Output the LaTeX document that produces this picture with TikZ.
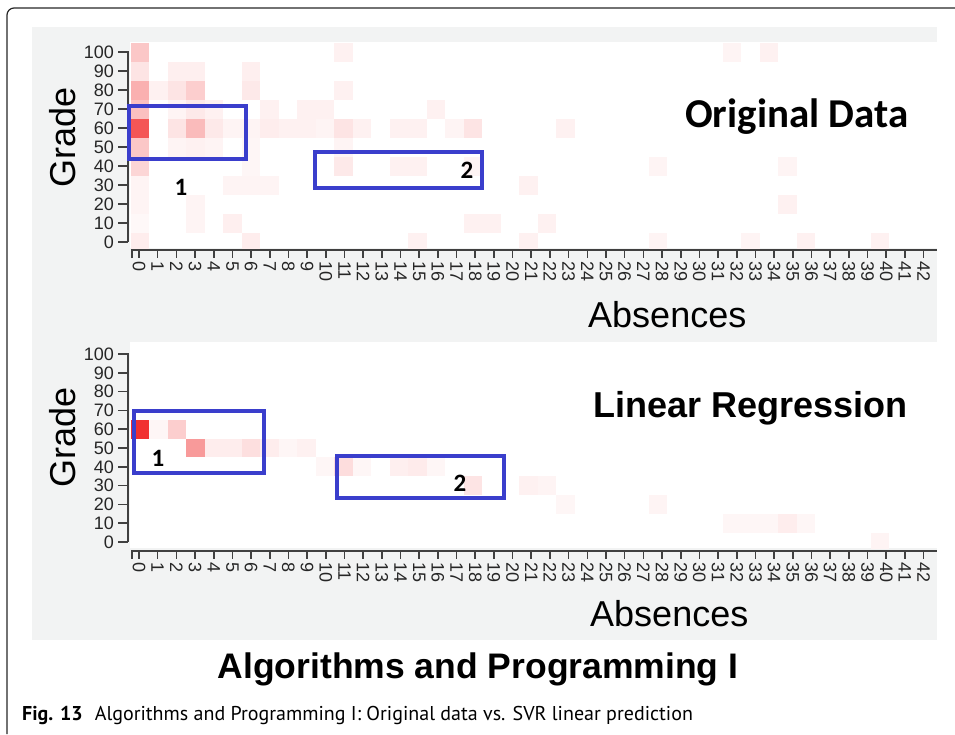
\documentclass[tikz,border=0pt]{standalone}
\usepackage{fontspec}
\setmainfont{Liberation Sans}
\newfontfamily\calfont{Carlito}
\newfontfamily\capfont{PT Sans}
\usetikzlibrary{positioning}
\definecolor{heat}{RGB}{240,30,30}
\definecolor{boxblue}{RGB}{58,62,204}
\definecolor{panelgray}{RGB}{242,243,243}
\tikzset{every node/.style={inner sep=0pt},
  axisline/.style={line width=1.6pt,black!75},
  ytick/.style={anchor=east,font=\fontsize{18}{18}\selectfont,text=black!85},
  xtick/.style={anchor=west,rotate=-90,font=\fontsize{18}{18}\selectfont,text=black!85},
  axislabel/.style={font=\fontsize{36}{36}\selectfont},
  regionbox/.style={draw=boxblue,line width=4pt},
  regionlabel/.style={font=\calfont\bfseries\fontsize{25}{25}\selectfont}}

\begin{document}
\begin{tikzpicture}[x=1pt,y=-1pt]
  \useasboundingbox (0,0) rectangle (955,734);
  \draw[line width=1.2pt,black!85,rounded corners=7pt] (7,734) -- (7,8) -- (955,8);
  \fill[panelgray] (32,27) rectangle (937,640);
  \fill[white] (130,42) rectangle (937,248);
  \fill[white] (130,342) rectangle (937,548);
  % original data
  \begin{scope}
    \clip (130,42) rectangle (937,248);
    \foreach \c/\g/\v in {0/100/25,0/90/12,0/80/35,0/70/28,0/60/75,0/50/25,0/40/18,0/30/5,0/20/5,0/10/3,0/0/8,
      1/80/6,2/90/7,2/80/12,2/70/5,2/60/12,2/50/5,3/90/7,3/80/22,3/70/10,3/60/30,3/50/6,3/20/5,3/10/5,
      4/70/6,4/60/10,4/50/5,5/60/5,5/30/5,5/10/7,6/90/7,6/80/10,6/60/5,6/50/4,6/40/4,6/30/5,6/0/8,
      7/70/6,7/60/8,7/30/5,8/60/6,9/70/6,9/60/6,10/70/6,10/60/5,
      11/100/6,11/80/6,11/60/12,11/50/5,11/40/10,12/60/6,14/60/6,14/40/6,15/60/6,15/40/6,15/0/6,
      16/70/6,17/60/5,18/60/12,18/40/5,18/10/6,19/10/6,21/30/6,21/0/6,22/10/6,23/60/6,
      28/40/5,28/0/5,32/100/5,33/0/5,34/100/6,35/40/5,35/20/6,36/0/6,40/0/6}
      \fill[heat!\v] ({130.75+18.5*\c},{232.5-1.9*\g}) rectangle ++(18.5,19);
  \end{scope}
  % linear regression
  \begin{scope}
    \clip (130,342) rectangle (937,548);
    \foreach \c/\g/\v in {0/60/92,1/60/4,2/60/22,3/50/45,4/50/8,5/50/8,6/50/14,7/50/8,8/50/4,9/50/6,
      10/40/4,11/40/15,12/40/4,14/40/7,15/40/9,16/40/4,18/30/12,21/30/6,22/30/5,23/20/4,28/20/5,
      32/10/4,33/10/4,34/10/4,35/10/8,36/10/4,40/0/5}
      \fill[heat!\v] ({130.75+18.5*\c},{532.6-1.88*\g}) rectangle ++(18.5,18.8);
  \end{scope}
  % axes
  \draw[axisline] (118,52) -- (128,52) -- (128,242);
  \draw[axisline] (118,354) -- (128,354) -- (128,542);
  \foreach \g in {0,10,...,100} {
    \draw[axisline] (118,{242-1.9*\g}) -- (128,{242-1.9*\g});
    \node[ytick] (ya\g) at (114,{242-1.9*\g}) {\g};
    \draw[axisline] (118,{542-1.88*\g}) -- (128,{542-1.88*\g});
    \node[ytick] (yb\g) at (114,{542-1.88*\g}) {\g};
  }
  \draw[axisline] (132,258) -- (132,250) -- (937,250);
  \draw[axisline] (132,559) -- (132,551) -- (937,551);
  \foreach \i in {0,...,42} {
    \draw[axisline] ({139+18.68*\i},250) -- ++(0,8);
    \node[xtick] (xa\i) at ({139+18.68*\i},261) {\i};
    \draw[axisline] ({139+18.68*\i},551) -- ++(0,8);
    \node[xtick] (xb\i) at ({139+18.68*\i},562) {\i};
  }
  \node[axislabel,anchor=base,rotate=90] (gradea) at (75,137) {Grade};
  \node[axislabel,anchor=base,rotate=90] (gradeb) at (75,437) {Grade};
  \node[axislabel,anchor=base west] (absa) at (588,327) {Absences};
  \node[axislabel,anchor=base west] (absb) at (590,626) {Absences};
  \node[anchor=base west,font=\calfont\bfseries\fontsize{41}{41}\selectfont] (orig) at (685,127) {Original Data};
  \node[anchor=base west,font=\bfseries\fontsize{36}{36}\selectfont] (linreg) at (593,417) {Linear Regression};
  % marked regions
  \draw[regionbox] (129,106) rectangle (246,159);
  \draw[regionbox] (315,152) rectangle (482,188);
  \draw[regionbox] (134,411) rectangle (264,473);
  \draw[regionbox] (337,456) rectangle (504,498);
  \node[regionlabel] (ra1) at (181,187) {1};
  \node[regionlabel] (ra2) at (467,170) {2};
  \node[regionlabel] (rb1) at (158,458) {1};
  \node[regionlabel] (rb2) at (460,483) {2};
  \node[anchor=base,font=\bfseries\fontsize{35.5}{36}\selectfont] (title) at (478,678) {Algorithms and Programming I};
  \node[anchor=base west,font=\capfont\fontsize{20}{20}\selectfont] (caption) at (22,720)
    {\textbf{Fig. 13}\hspace{0.6em}Algorithms and Programming I: Original data vs. SVR linear prediction};
\end{tikzpicture}
\end{document}
